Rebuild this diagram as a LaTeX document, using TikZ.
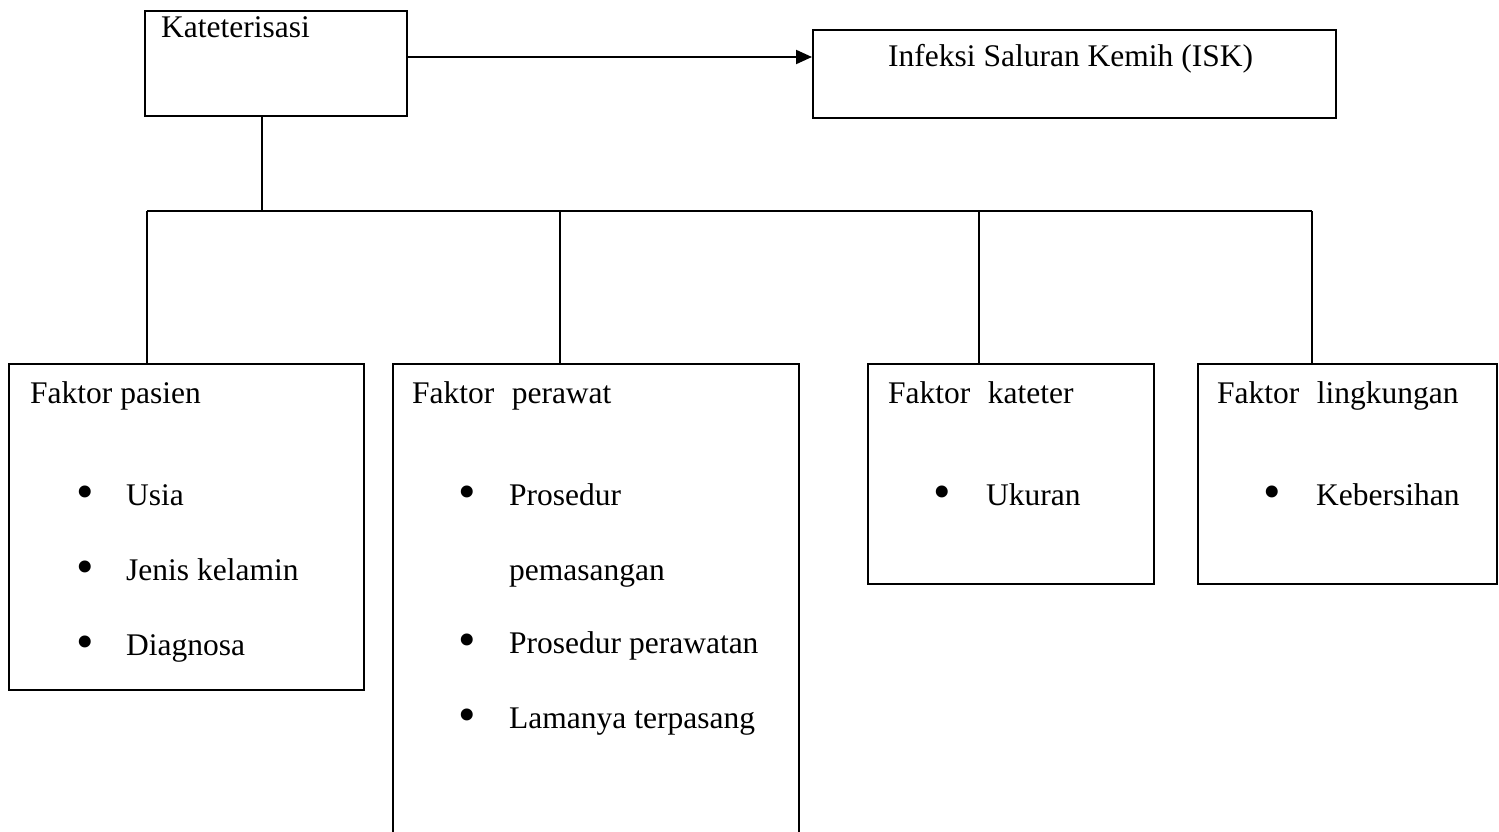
\documentclass[tikz,border=0pt]{standalone}
\usepackage{fontspec}
\setmainfont{Liberation Serif}
\usetikzlibrary{arrows.meta}
\begin{document}
\begin{tikzpicture}[x=1pt,y=-1pt,
  box/.style={draw, line width=1.6pt, rectangle, inner sep=0pt, anchor=north west},
  lbl/.style={inner sep=0pt, anchor=base west, font=\fontsize{31.5}{36}\selectfont},
  bul/.style={inner sep=0pt, anchor=center, font=\fontsize{50}{56}\selectfont},
  conn/.style={line width=1.2pt},
  arr/.style={line width=2pt, -{Triangle[length=16pt,width=14pt]}},
]
\useasboundingbox (0,0) rectangle (1499,832);
\clip (0,0) rectangle (1499,832);

% boxes
\node[box, line width=2pt, minimum width=262pt, minimum height=105pt] (kat) at (144,10) {};
\node[box, minimum width=523pt, minimum height=88pt] (isk) at (812,29) {};
\node[box, minimum width=355pt, minimum height=326pt] (pasien) at (8,363) {};
\node[box, minimum width=406pt, minimum height=520pt] (perawat) at (392,363) {};
\node[box, minimum width=286pt, minimum height=220pt] (kateter) at (867,363) {};
\node[box, minimum width=299pt, minimum height=220pt] (lingk) at (1197,363) {};

% connectors
\coordinate (ay) at (0,57);
\draw[arr] (kat.east |- ay) -- (isk.west |- ay);
\coordinate (j0) at (262,211);
\coordinate (b1) at (147,211);
\coordinate (b2) at (560,211);
\coordinate (b3) at (979,211);
\coordinate (b4) at (1312,211);
\draw[conn] (kat.south -| j0) -- (j0);
\draw[conn] (b1) -- (b4);
\draw[conn] (b1) -- (pasien.north -| b1);
\draw[conn] (b2) -- (perawat.north -| b2);
\draw[conn] (b3) -- (kateter.north -| b3);
\draw[conn] (b4) -- (lingk.north -| b4);

% texts
\node[lbl] (t0) at (161,38) {Kateterisasi};
\node[lbl] (t1) at (888,67) {Infeksi Saluran Kemih (ISK)};

\node[lbl] (p0) at (30,403) {Faktor pasien};
\node[bul] (pb1) at (85,497) {•};
\node[lbl] (p1) at (126,505) {Usia};
\node[bul] (pb2) at (85,572) {•};
\node[lbl] (p2) at (126,580) {Jenis kelamin};
\node[bul] (pb3) at (85,647) {•};
\node[lbl] (p3) at (126,655) {Diagnosa};

\node[lbl] (r0) at (412,403) {Faktor\hspace{0.55em}perawat};
\node[bul] (rb1) at (467,497) {•};
\node[lbl] (r1) at (509,505) {Prosedur};
\node[lbl] (r1b) at (509,580) {pemasangan};
\node[bul] (rb2) at (467,645) {•};
\node[lbl] (r2) at (509,653) {Prosedur perawatan};
\node[bul] (rb3) at (467,720) {•};
\node[lbl] (r3) at (509,728) {Lamanya terpasang};

\node[lbl] (k0) at (888,403) {Faktor\hspace{0.55em}kateter};
\node[bul] (kb1) at (942,497) {•};
\node[lbl] (k1) at (986,505) {Ukuran};

\node[lbl] (l0) at (1217,403) {Faktor\hspace{0.55em}lingkungan};
\node[bul] (lb1) at (1272,497) {•};
\node[lbl] (l1) at (1316,505) {Kebersihan};
\end{tikzpicture}
\end{document}
